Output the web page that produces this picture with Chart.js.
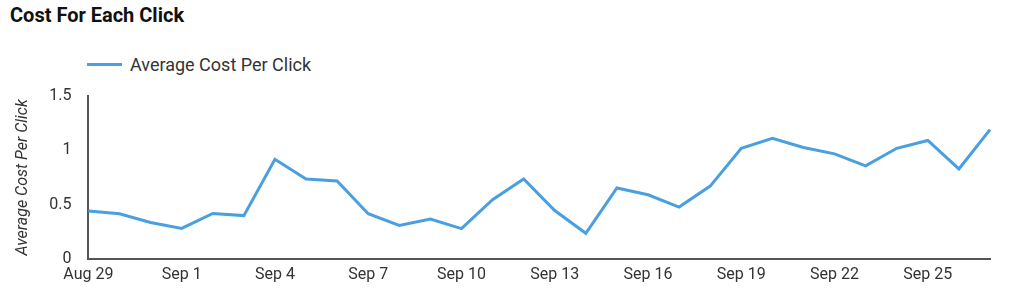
<!DOCTYPE html>
<html lang="en">
  <head>
    <meta charset="utf-8" />
    <title>Cost For Each Click</title>
    <style>
      * {
        margin: 0;
        padding: 0;
        font-family: Roboto, sans-serif;
      }
      body {
        width: 1024px;
        height: 304px;
        background: #fff;
        position: relative;
        overflow: hidden;
      }
      .title {
        position: absolute;
        left: 10px;
        top: 3px;
        font-size: 20px;
        font-weight: bold;
        color: #111;
      }
      .legend {
        position: absolute;
        left: 87px;
        top: 54px;
        font-size: 18px;
        color: #333;
        display: flex;
        align-items: center;
      }
      .legend .swatch {
        width: 35px;
        height: 3px;
        background: #4a9fe0;
        margin-right: 8px;
      }
      .chartBox {
        position: absolute;
        left: 0;
        top: 0;
        width: 1024px;
        height: 304px;
      }
    </style>
  </head>
  <body>
    <div class="title">Cost For Each Click</div>
    <div class="legend"><span class="swatch"></span>Average Cost Per Click</div>
    <div class="chartBox">
      <canvas id="myChart" width="1024" height="304"></canvas>
    </div>
    <script src="https://cdn.jsdelivr.net/npm/chart.js/dist/chart.umd.min.js"></script>
    <script>
      // setup
      const dates = [
        "Aug 29", "Aug 30", "Aug 31", "Sep 1", "Sep 2", "Sep 3", "Sep 4",
        "Sep 5", "Sep 6", "Sep 7", "Sep 8", "Sep 9", "Sep 10", "Sep 11",
        "Sep 12", "Sep 13", "Sep 14", "Sep 15", "Sep 16", "Sep 17", "Sep 18",
        "Sep 19", "Sep 20", "Sep 21", "Sep 22", "Sep 23", "Sep 24", "Sep 25",
        "Sep 26", "Sep 27",
      ];
      const avgCostPerClick = [
        0.44, 0.415, 0.335, 0.28, 0.418, 0.398, 0.917, 0.735, 0.717, 0.415,
        0.307, 0.366, 0.278, 0.545, 0.735, 0.445, 0.235, 0.653, 0.59, 0.477,
        0.67, 1.018, 1.11, 1.025, 0.967, 0.857, 1.018, 1.09, 0.828, 1.19,
      ];
      const yTicks = [0, 0.5, 1, 1.5];

      const data = {
        labels: dates,
        datasets: [
          {
            label: "Average Cost Per Click",
            data: avgCostPerClick,
            borderColor: "#4a9fe0",
            backgroundColor: "#4a9fe0",
            borderWidth: 3,
            pointRadius: 0,
            tension: 0,
          },
        ],
      };

      // config
      const config = {
        type: "line",
        data,
        options: {
          responsive: false,
          animation: false,
          layout: {
            padding: { top: 96, right: 34, left: 13, bottom: 12 },
          },
          plugins: {
            legend: { display: false },
            tooltip: { enabled: false },
          },
          scales: {
            x: {
              offset: false,
              grid: { display: false, drawTicks: false },
              border: { color: "#555", width: 2 },
              ticks: {
                autoSkip: false,
                maxRotation: 0,
                padding: 7,
                color: "#333",
                font: { family: "Roboto", size: 16 },
                callback: (v, i) => (i % 3 === 0 ? dates[i] : ""),
              },
            },
            y: {
              min: yTicks[0],
              max: yTicks[yTicks.length - 1],
              afterBuildTicks: (axis) => {
                axis.ticks = yTicks.map((v) => ({ value: v }));
              },
              grid: { display: false, drawTicks: false },
              border: { color: "#555", width: 2 },
              ticks: {
                padding: 17,
                color: "#333",
                font: { family: "Roboto", size: 16 },
                callback: (v) => String(v),
              },
              title: {
                display: true,
                text: "Average Cost Per Click",
                color: "#333",
                font: { family: "Roboto", size: 16, style: "italic" },
                padding: { top: 0, bottom: 0 },
              },
            },
          },
        },
      };

      // render init block
      const myChart = new Chart(document.getElementById("myChart"), config);
    </script>
  </body>
</html>
